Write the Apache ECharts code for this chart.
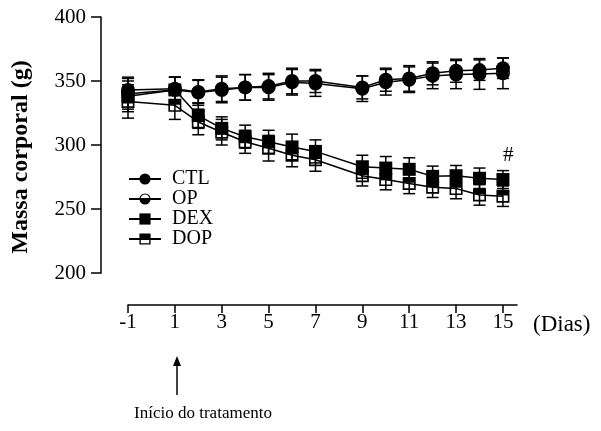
<!DOCTYPE html>
<html>
<head>
<meta charset="utf-8">
<script src="https://cdn.jsdelivr.net/npm/echarts@6/dist/echarts.min.js"></script>
<style>
  html, body { margin: 0; padding: 0; background: #fff; }
  #chart { width: 601px; height: 431px; }
</style>
</head>
<body>
<div id="chart"></div>
<script>
// dias de avaliação
const days = [-1, 1, 2, 3, 4, 5, 6, 7, 9, 10, 11, 12, 13, 14, 15];
const xTicks = [-1, 1, 3, 5, 7, 9, 11, 13, 15];

// massa corporal media (g) e erro
const ctlMean = [343, 344, 341.5, 344, 345, 346, 350, 350, 345, 351, 352, 356, 358, 358.5, 360];
const ctlErr  = [10, 9, 9, 10, 10, 10, 10, 9, 9, 9, 10, 9, 9, 8, 8];
const opMean  = [340, 343, 341, 343, 345, 345, 349, 348, 344, 349, 351, 354, 355, 355.5, 356];
const opErr   = [12, 10, 10, 10, 10, 10, 10, 10, 10, 10, 10, 10, 11, 12, 12];
const dexMean = [338, 343, 323, 313, 306.5, 302.5, 298.5, 295, 283, 282, 281, 275.5, 276, 274, 273];
const dexErr  = [12, 10, 10, 9, 9, 9, 10, 9, 9, 9, 9, 8, 8, 8, 7];
const dopMean = [334, 331, 318, 310, 302.5, 297.5, 292, 288.5, 276, 273, 270, 267, 266, 261, 260];
const dopErr  = [13, 11, 10, 10, 9, 10, 9, 9, 8, 8, 8, 8, 8, 8, 8];

const FONT = 'Liberation Serif';

// simbolos meio preenchidos
const halfCircle = 'path://M10,0 A10,10 0 0,1 20,10 A10,10 0 0,1 10,20 A10,10 0 0,1 0,10 A10,10 0 0,1 10,0 Z ' +
  'M10,2 A8,8 0 0,0 2,10 A8,8 0 0,0 10,18 A8,8 0 0,0 18,10 A8,8 0 0,0 10,2 Z ' +
  'M0,10 L20,10 A10,10 0 0,1 10,20 A10,10 0 0,1 0,10 Z';
const halfSquare = 'path://M0,0 L20,0 L20,20 L0,20 Z M2.5,2.5 L2.5,17.5 L17.5,17.5 L17.5,2.5 Z M0,0 L20,0 L20,9 L0,9 Z';

function lineSeries(name, mean, symbol, size) {
  return {
    name: name,
    type: 'line',
    data: days.map((d, i) => [d, mean[i]]),
    symbol: symbol,
    symbolSize: size,
    showAllSymbol: true,
    itemStyle: { color: '#000' },
    lineStyle: { color: '#000', width: 1.5 },
    z: 3
  };
}

function errSeries(mean, err) {
  return {
    type: 'custom',
    silent: true,
    encode: { x: 0, y: [1, 2] },
    data: days.map((d, i) => [d, mean[i] - err[i], mean[i] + err[i]]),
    renderItem: (params, api) => {
      const lo = api.coord([api.value(0), api.value(1)]);
      const hi = api.coord([api.value(0), api.value(2)]);
      const w = 6;
      const st = { stroke: '#000', lineWidth: 1.5 };
      return {
        type: 'group',
        children: [
          { type: 'line', shape: { x1: lo[0], y1: lo[1], x2: hi[0], y2: hi[1] }, style: st },
          { type: 'line', shape: { x1: lo[0] - w, y1: lo[1], x2: lo[0] + w, y2: lo[1] }, style: st },
          { type: 'line', shape: { x1: hi[0] - w, y1: hi[1], x2: hi[0] + w, y2: hi[1] }, style: st }
        ]
      };
    },
    z: 2
  };
}

const chart = echarts.init(document.getElementById('chart'));
chart.setOption({
  animation: false,
  textStyle: { fontFamily: FONT, color: '#000' },
  grid: { left: 128, right: 84, top: 17, bottom: 158 },
  legend: {
    orient: 'vertical',
    left: 123,
    top: 164,
    itemWidth: 32,
    itemHeight: 14,
    itemGap: 0,
    data: ['CTL', 'OP', 'DEX', 'DOP'],
    textStyle: { fontFamily: FONT, fontSize: 20, lineHeight: 20, color: '#000', padding: [0, 0, 0, 6] }
  },
  xAxis: {
    type: 'value',
    min: -1,
    max: 15.6,
    offset: 32,
    splitLine: { show: false },
    axisLine: { onZero: false, lineStyle: { color: '#000', width: 1.5 } },
    axisTick: { customValues: xTicks, length: 8, lineStyle: { color: '#000', width: 1.5 } },
    axisLabel: { customValues: xTicks, fontFamily: FONT, fontSize: 21, color: '#000', margin: 7 },
    name: '(Dias)',
    nameLocation: 'end',
    nameGap: 16,
    nameTextStyle: { fontFamily: FONT, fontSize: 23, color: '#000', verticalAlign: 'top', padding: [8, 0, 0, 0] }
  },
  yAxis: {
    type: 'value',
    min: 200,
    max: 400,
    interval: 50,
    offset: 27,
    splitLine: { show: false },
    axisLine: { show: true, onZero: false, lineStyle: { color: '#000', width: 1.5 } },
    axisTick: { show: true, length: 10, lineStyle: { color: '#000', width: 1.5 } },
    axisLabel: { fontFamily: FONT, fontSize: 21, color: '#000', margin: 15 }
  },
  graphic: [
    { type: 'text', x: 21, y: 157, rotation: Math.PI / 2,
      style: { text: 'Massa corporal (g)', font: 'bold 24px "Liberation Serif"', fill: '#000', align: 'center', verticalAlign: 'middle' } },
    { type: 'text', left: 503, top: 145, style: { text: '#', font: '21px "Liberation Serif"', fill: '#000' } },
    { type: 'line', shape: { x1: 177, y1: 395, x2: 177, y2: 363 }, style: { stroke: '#000', lineWidth: 1.5 } },
    { type: 'polygon', shape: { points: [[177, 356], [173, 366], [181, 366]] }, style: { fill: '#000' } },
    { type: 'text', x: 203, y: 405, style: { text: 'Início do tratamento', font: '17px "Liberation Serif"', fill: '#000', align: 'center' } }
  ],
  series: [
    errSeries(ctlMean, ctlErr),
    errSeries(opMean, opErr),
    errSeries(dexMean, dexErr),
    errSeries(dopMean, dopErr),
    lineSeries('DOP', dopMean, halfSquare, 13),
    lineSeries('DEX', dexMean, 'rect', 13),
    lineSeries('OP', opMean, halfCircle, 14),
    lineSeries('CTL', ctlMean, 'circle', 14)
  ]
});
</script>
</body>
</html>
